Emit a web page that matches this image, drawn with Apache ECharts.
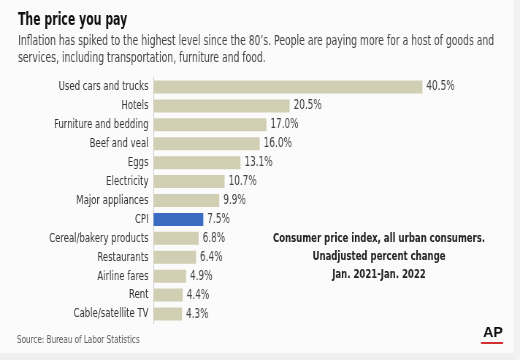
<!DOCTYPE html>
<html><head><meta charset="utf-8">
<script src="https://cdn.jsdelivr.net/npm/echarts@6/dist/echarts.min.js"></script>
<style>
html,body{margin:0;padding:0;background:#fbfbfb;overflow:hidden;}
#wrap{width:520px;height:360px;overflow:hidden;}
#c{width:712px;height:360px;transform:scaleX(0.730337);transform-origin:0 0;}
</style>
</head><body><div id="wrap"><div id="c"></div></div>
<script>
const categories = ["Used cars and trucks","Hotels","Furniture and bedding","Beef and veal","Eggs","Electricity","Major appliances","CPI","Cereal/bakery products","Restaurants","Airline fares","Rent","Cable/satellite TV"];
const values = [40.5,20.5,17.0,16.0,13.1,10.7,9.9,7.5,6.8,6.4,4.9,4.4,4.3];
const highlight = "CPI";
const titleText = "The price you pay";
const subtitleLines = ["Inflation has spiked to the highest level since the 80’s. People are paying more for a host of goods and","services, including transportation, furniture and food."];
const noteLines = ["Consumer price index, all urban consumers.","Unadjusted percent change","Jan. 2021-Jan. 2022"];
const sourceText = "Source: Bureau of Labor Statistics";

const S = 520/712;            // horizontal condensing of the whole canvas
const X = v => v / S;         // page x -> chart x
const FONT = '"DejaVu Sans Condensed","DejaVu Sans",sans-serif';
const chart = echarts.init(document.getElementById('c'), null, {renderer:'canvas'});
chart.setOption({
  backgroundColor:'#fbfbfb',
  animation:false,
  grid:{left:X(153.5), top:77.5, width:X(332), height:246},
  xAxis:{type:'value', min:0, max:50, show:false},
  yAxis:{type:'category', data:categories, inverse:true,
    axisLine:{show:true, lineStyle:{color:'#c8c8c8', width:1}},
    axisTick:{show:false},
    axisLabel:{margin:X(5), fontFamily:FONT, fontSize:13, color:'#333'}},
  series:[{type:'bar', barWidth:13,
    data:values.map((v,i)=>({value:v, itemStyle:{color: categories[i]===highlight ? '#3b6cc2' : '#d1cfb3'}})),
    label:{show:true, position:'right', distance:X(4), fontFamily:FONT, fontSize:13.5, color:'#444',
      formatter:p=>p.value.toFixed(1)+'%'}}],
  graphic:[
    {type:'text', x:X(18), y:20.5, scaleX:0.95, style:{text:titleText, font:'bold 17.5px '+FONT, fill:'#111', verticalAlign:'middle'}},
    {type:'text', x:X(18), y:41.5, style:{text:subtitleLines[0], font:'14.1px '+FONT, fill:'#444', verticalAlign:'middle'}},
    {type:'text', x:X(18), y:58.2, style:{text:subtitleLines[1], font:'14.1px '+FONT, fill:'#444', verticalAlign:'middle'}},
    {type:'text', x:X(379), y:238.5, style:{text:noteLines[0], font:'bold 13px '+FONT, fill:'#222', align:'center', verticalAlign:'middle'}},
    {type:'text', x:X(379), y:256.8, style:{text:noteLines[1], font:'bold 13px '+FONT, fill:'#222', align:'center', verticalAlign:'middle'}},
    {type:'text', x:X(379), y:274.8, style:{text:noteLines[2], font:'bold 13px '+FONT, fill:'#222', align:'center', verticalAlign:'middle'}},
    {type:'text', x:X(17), y:340, style:{text:sourceText, font:'11px '+FONT, fill:'#555', verticalAlign:'middle'}},
    {type:'text', x:X(493), y:333, scaleX:1.3, style:{text:'AP', font:'bold 15px "Liberation Sans",sans-serif', fill:'#111', align:'center', verticalAlign:'middle'}},
    {type:'rect', shape:{x:X(481), y:342, width:X(22), height:2}, style:{fill:'#d03030'}},
    {type:'rect', shape:{x:0, y:353, width:712, height:7}, style:{fill:'#efefef'}},
    {type:'rect', shape:{x:X(514), y:0, width:X(6), height:360}, style:{fill:'#f2f2f2'}}
  ]
});
</script></body></html>
